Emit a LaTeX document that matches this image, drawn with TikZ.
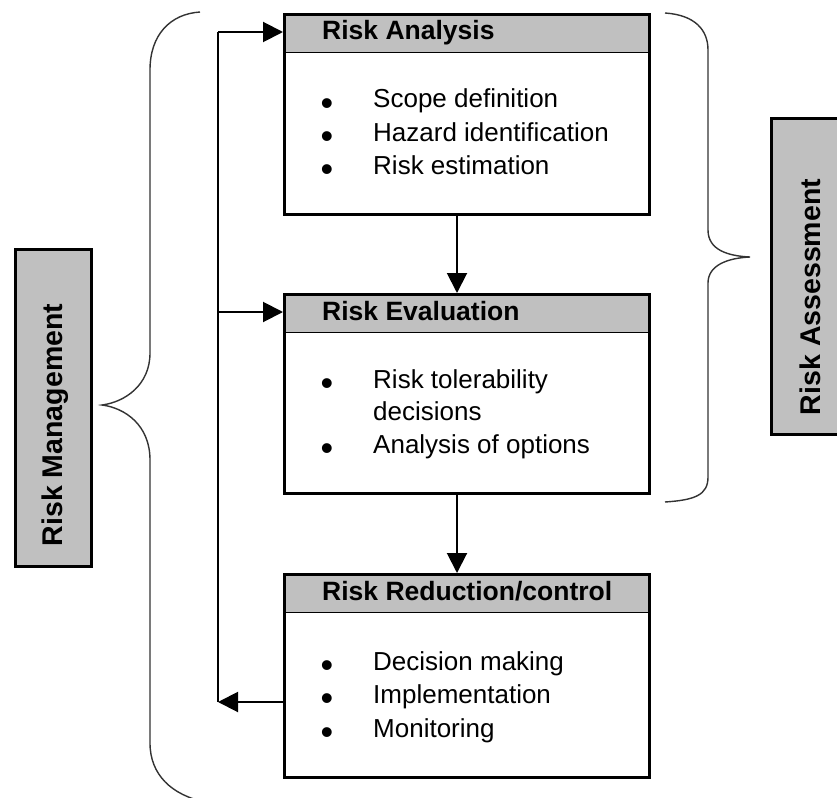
\documentclass[tikz,border=0pt]{standalone}
\usepackage{fontspec}
\setmainfont{Liberation Sans}
\usetikzlibrary{arrows.meta}
\definecolor{hdr}{HTML}{C0C0C0}
\begin{document}
\begin{tikzpicture}[x=1pt,y=-1pt,
  box/.style={draw, line width=3pt, minimum width=365pt, anchor=north west, inner sep=0pt},
  head/.style={fill=hdr, minimum width=365pt, minimum height=39pt, anchor=north west, inner sep=0pt},
  htext/.style={font=\fontsize{26.5}{30}\bfseries\selectfont, anchor=base west, inner sep=0pt},
  btext/.style={font=\fontsize{26}{33}\selectfont, anchor=base west, inner sep=0pt},
  bul/.style={font=\fontsize{36}{36}\selectfont, anchor=base, inner sep=0pt, yshift=-7pt},
  conn/.style={line width=2pt, -{Triangle[length=20pt,width=20pt]}},
  brace/.style={line width=1.4pt, draw=black!80},
  side/.style={draw, line width=3pt, fill=hdr, anchor=north west, inner sep=0pt},
  stext/.style={font=\fontsize{28.5}{30}\bfseries\selectfont, rotate=90, anchor=base, inner sep=0pt}]
\clip (0,0) rectangle (837,797);
\fill[white] (0,0) rectangle (837,797);

% side labels
\node[side, minimum width=76pt, minimum height=317pt] (mgbox) at (14,248) {};
\node[stext] (mg) at (62,425) {Risk Management};
\node[side, minimum width=80pt, minimum height=316pt] (asbox) at (770,117) {};
\node[stext] (as) at (820,297) {Risk Assessment};

% braces
\draw[brace] (200,12) .. controls (170,14) and (150,35) .. (150,70)
  -- (150,353) .. controls (150,385) and (125,402) .. (102,405)
  .. controls (125,408) and (150,425) .. (150,460)
  -- (150,743) .. controls (150,775) and (172,795) .. (205,802);
\draw[brace] (665,13) .. controls (695,15) and (708,30) .. (708,50)
  -- (708,230) .. controls (708,250) and (728,256) .. (750,257)
  .. controls (728,258) and (708,265) .. (708,283)
  -- (708,477) .. controls (708,495) and (695,500) .. (665,502);

% box A
\node[head] (Ah) at (283,13) {};
\draw[line width=1.5pt] (Ah.south west) -- (Ah.south east);
\node[box, minimum height=200pt] (A) at (283,13) {};
\node[htext] (At) at (322,40) {Risk Analysis};
\node[bul] (Ab1) at (327,108) {•};
\node[bul] (Ab2) at (327,141) {•};
\node[bul] (Ab3) at (327,174) {•};
\node[btext] (A1) at (373,108) {Scope definition};
\node[btext] (A2) at (373,141) {Hazard identification};
\node[btext] (A3) at (373,174) {Risk estimation};

% box B
\node[head] (Bh) at (283,293) {};
\draw[line width=1.5pt] (Bh.south west) -- (Bh.south east);
\node[box, minimum height=199pt] (B) at (283,293) {};
\node[htext] (Bt) at (322,320) {Risk Evaluation};
\node[bul] (Bb1) at (327,388) {•};
\node[bul] (Bb2) at (327,453) {•};
\node[btext] (B1) at (373,388) {Risk tolerability};
\node[btext] (B1b) at (373,420) {decisions};
\node[btext] (B2) at (373,453) {Analysis of options};

% box C
\node[head] (Ch) at (283,573) {};
\draw[line width=1.5pt] (Ch.south west) -- (Ch.south east);
\node[box, minimum height=203pt] (C) at (283,573) {};
\node[htext] (Ct) at (322,600) {Risk Reduction/control};
\node[bul] (Cb1) at (327,670) {•};
\node[bul] (Cb2) at (327,703) {•};
\node[bul] (Cb3) at (327,737) {•};
\node[btext] (C1) at (373,670) {Decision making};
\node[btext] (C2) at (373,703) {Implementation};
\node[btext] (C3) at (373,737) {Monitoring};

% connectors
\coordinate (fb) at (218,702);
\coordinate (ftop) at (218,32);
\coordinate (fmid) at (218,312);
\draw[conn] (A.south -| 457,0) -- (B.north -| 457,0);
\draw[conn] (B.south -| 457,0) -- (C.north -| 457,0);
\draw[conn] (C.west |- fb) -- (fb);
\draw[line width=2pt] (fb) -- (ftop);
\draw[conn] (ftop) -- (A.west |- ftop);
\draw[conn] (fmid) -- (B.west |- fmid);
\end{tikzpicture}
\end{document}
